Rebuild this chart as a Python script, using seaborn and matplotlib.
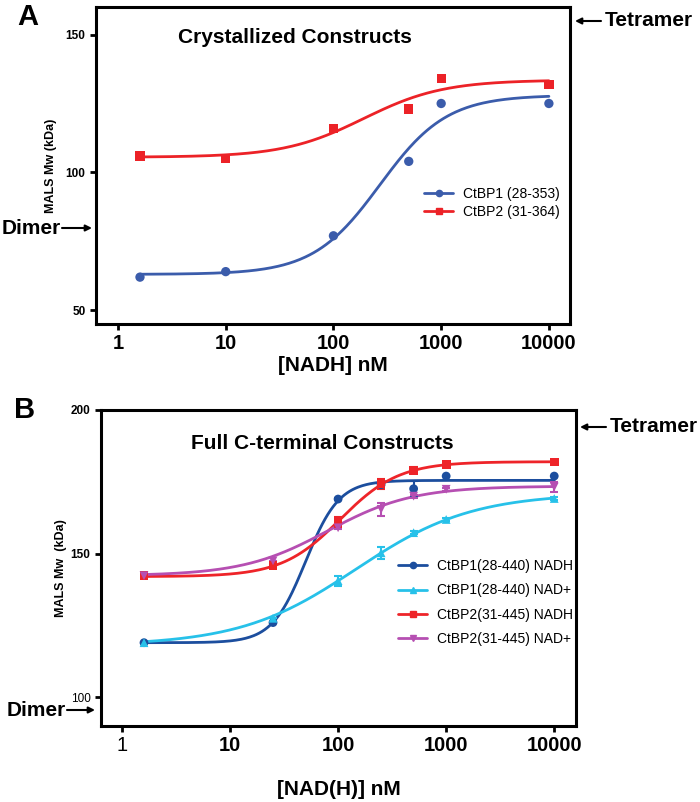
import numpy as np
import pandas as pd
import matplotlib
matplotlib.use("Agg")
import matplotlib.pyplot as plt
from matplotlib.lines import Line2D
from matplotlib.patches import FancyArrowPatch
import seaborn as sns

# ---------------- data ----------------
# Panel A: crystallized constructs, [NADH] nM vs MALS Mw (kDa)
a_conc = [1.6, 10, 100, 500, 1000, 10000]
a_ctbp1 = [62, 64, 77, 104, 125, 125]
a_ctbp2 = [106, 105, 116, 123, 134, 132]
a_labels = ["CtBP1 (28-353)", "CtBP2 (31-364)"]
# fitted 4PL parameters: bottom, top, EC50, hill
a_fit = {"CtBP1 (28-353)": (63, 128, 270, 1.4),
         "CtBP2 (31-364)": (105.5, 133.5, 190, 1.17)}

# Panel B: full C-terminal constructs
b_conc = [1.6, 25, 100, 250, 500, 1000, 10000]
b_c1_nadh = [119, 126, 169, 174, 172.6, 177, 177]
b_c1_nadh_err = [0, 0, 0.5, 1.0, 2.6, 0, 0]
b_c1_nad = [119, 127.5, 140.6, 150.3, 157.3, 161.9, 169.2]
b_c1_nad_err = [0, 0, 1.7, 2.0, 0.5, 0.5, 0.5]
b_c2_nadh = [142.3, 145.9, 160.9, 174.4, 179, 181.1, 181.9]
b_c2_nadh_err = [0, 0, 1.7, 1.75, 1.0, 0.5, 0.5]
b_c2_nad = [142.3, 147.5, 159, 165.4, 170, 172.4, 173.2]
b_c2_nad_err = [0, 0, 0.5, 2.2, 0.5, 0.5, 1.6]
b_labels = ["CtBP1(28-440) NADH", "CtBP1(28-440) NAD+",
            "CtBP2(31-445) NADH", "CtBP2(31-445) NAD+"]
b_fit = {"CtBP1(28-440) NADH": (119, 175.5, 50, 2.8),
         "CtBP1(28-440) NAD+": (118, 171, 145, 0.81),
         "CtBP2(31-445) NADH": (142, 182, 105, 1.6),
         "CtBP2(31-445) NAD+": (142.3, 173.5, 80, 1.1)}

xticks = [1, 10, 100, 1000, 10000]
xtick_labels = ["1", "10", "100", "1000", "10000"]

# ---------------- style ----------------
sns.set_style("ticks")
plt.rcParams["font.family"] = ["Liberation Sans", "DejaVu Sans"]
for k in ["text.color", "axes.labelcolor", "xtick.color", "ytick.color", "axes.edgecolor"]:
    plt.rcParams[k] = "black"

W, H = 700, 802
fig = plt.figure(figsize=(W / 100, H / 100), dpi=100)


def fx(px):
    return px / W


def fy(py):
    return 1 - py / H


def logistic(x, p):
    b, t, ec, h = p
    return b + (t - b) / (1 + (ec / x) ** h)


def style_axes(ax):
    for s in ax.spines.values():
        s.set_linewidth(2.2)
        s.set_color("black")
    ax.tick_params(axis="both", direction="out", width=2, length=4, color="black")
    ax.minorticks_off()


xfit = np.logspace(np.log10(1.6), 4, 300)

# ---------------- Panel A ----------------
axA = fig.add_axes([fx(96), fy(324), fx(570 - 96), (324 - 7) / H])
cols_a = {"CtBP1 (28-353)": "#3B5CAB", "CtBP2 (31-364)": "#EC2227"}
marks_a = {"CtBP1 (28-353)": "o", "CtBP2 (31-364)": "s"}
dfa = pd.DataFrame({"conc": a_conc * 2,
                    "mw": a_ctbp1 + a_ctbp2,
                    "construct": [a_labels[0]] * len(a_conc) + [a_labels[1]] * len(a_conc)})
for lab in a_labels:
    fitdf = pd.DataFrame({"conc": xfit, "mw": logistic(xfit, a_fit[lab])})
    sns.lineplot(data=fitdf, x="conc", y="mw", ax=axA, color=cols_a[lab], lw=2.0,
                 legend=False)
    sub = dfa[dfa.construct == lab]
    sns.scatterplot(data=sub, x="conc", y="mw", ax=axA, color=cols_a[lab],
                    marker=marks_a[lab], s=45, edgecolor="none", legend=False, zorder=3)
axA.set_xscale("log")
axA.set_xlim(0.625, 15700)
axA.set_ylim(45, 160)
axA.set_xticks(xticks)
axA.set_xticklabels(xtick_labels, fontsize=14.5, fontweight="bold")
axA.set_yticks([50, 100, 150])
axA.set_yticklabels(["50", "100", "150"], fontsize=8.5, fontweight="bold")
style_axes(axA)
axA.set_xlabel("[NADH] nM", fontsize=15, fontweight="bold", labelpad=2)
axA.set_ylabel("MALS Mw (kDa)", fontsize=9, fontweight="bold", labelpad=6)
axA.text(0.42, 0.905, "Crystallized Constructs", transform=axA.transAxes,
         ha="center", va="center", fontsize=15, fontweight="bold")
hA = [Line2D([0], [0], color=cols_a[l], marker=marks_a[l], lw=2, ms=4.5) for l in a_labels]
axA.legend(hA, a_labels, loc="upper left", bbox_to_anchor=((424 - 96) / 474, (324 - 187) / 317),
           frameon=False, fontsize=10, handlelength=2.1, handletextpad=0.7,
           labelspacing=0.3, borderpad=0, borderaxespad=0)

# ---------------- Panel B ----------------
axB = fig.add_axes([fx(101), fy(726), fx(576 - 101), (726 - 410) / H])
cols_b = {b_labels[0]: "#1C4E9E", b_labels[1]: "#27C1E9",
          b_labels[2]: "#EE2429", b_labels[3]: "#B64FB2"}
marks_b = {b_labels[0]: "o", b_labels[1]: "^", b_labels[2]: "s", b_labels[3]: "v"}
b_vals = [b_c1_nadh, b_c1_nad, b_c2_nadh, b_c2_nad]
b_errs = [b_c1_nadh_err, b_c1_nad_err, b_c2_nadh_err, b_c2_nad_err]
for lab, vals, errs in zip(b_labels, b_vals, b_errs):
    fitdf = pd.DataFrame({"conc": xfit, "mw": logistic(xfit, b_fit[lab])})
    sns.lineplot(data=fitdf, x="conc", y="mw", ax=axB, color=cols_b[lab], lw=2.0,
                 legend=False)
    sub = pd.DataFrame({"conc": b_conc, "mw": vals, "err": errs})
    axB.errorbar(sub.conc, sub.mw, yerr=sub.err, fmt="none", ecolor=cols_b[lab],
                 elinewidth=1.5, capsize=3, capthick=1.5, zorder=3)
    sns.scatterplot(data=sub, x="conc", y="mw", ax=axB, color=cols_b[lab],
                    marker=marks_b[lab], s=40, edgecolor="none", legend=False, zorder=4)
axB.set_xscale("log")
axB.set_xlim(0.64, 15900)
axB.set_ylim(90, 200)
axB.set_xticks(xticks)
axB.set_xticklabels(xtick_labels, fontsize=14.5, fontweight="bold")
axB.get_xticklabels()[0].set_fontweight("normal")
axB.set_yticks([100, 150, 200])
axB.set_yticklabels(["100", "150", "200"], fontsize=8.5, fontweight="bold")
axB.get_yticklabels()[0].set_fontweight("normal")
style_axes(axB)
axB.set_xlabel("[NAD(H)] nM", fontsize=15, fontweight="bold", labelpad=18)
axB.set_ylabel("MALS Mw  (kDa)", fontsize=9, fontweight="bold", labelpad=3)
axB.text(0.465, 0.895, "Full C-terminal Constructs", transform=axB.transAxes,
         ha="center", va="center", fontsize=15, fontweight="bold")
hB = [Line2D([0], [0], color=cols_b[l], marker=marks_b[l], lw=2, ms=4.5) for l in b_labels]
axB.legend(hB, b_labels, loc="upper left", bbox_to_anchor=((398 - 101) / 475, (726 - 559) / 316),
           frameon=False, fontsize=10, handlelength=2.1, handletextpad=0.7,
           labelspacing=0.75, borderpad=0, borderaxespad=0)

# ---------------- annotations ----------------
arrow = dict(arrowstyle="-|>", lw=1.5, color="black", mutation_scale=9, shrinkA=0, shrinkB=0)
fig.text(fx(28), fy(17), "A", fontsize=21, fontweight="bold", ha="center", va="center")
fig.text(fx(25), fy(410), "B", fontsize=21, fontweight="bold", ha="center", va="center")
# Tetramer labels
fig.text(fx(605), fy(21), "Tetramer", fontsize=15, fontweight="bold", ha="left", va="center")
fig.add_artist(FancyArrowPatch((fx(601), fy(21)), (fx(575), fy(21)),
                               transform=fig.transFigure, **arrow))
fig.text(fx(610), fy(427), "Tetramer", fontsize=15, fontweight="bold", ha="left", va="center")
fig.add_artist(FancyArrowPatch((fx(606), fy(427)), (fx(580), fy(427)),
                               transform=fig.transFigure, **arrow))
# Dimer labels
fig.text(fx(61), fy(228), "Dimer", fontsize=15, fontweight="bold", ha="right", va="center")
fig.add_artist(FancyArrowPatch((fx(62), fy(228)), (fx(92), fy(228)),
                               transform=fig.transFigure, **arrow))
fig.text(fx(66), fy(710), "Dimer", fontsize=15, fontweight="bold", ha="right", va="center")
fig.add_artist(FancyArrowPatch((fx(67), fy(710)), (fx(95), fy(710)),
                               transform=fig.transFigure, **arrow))

fig.savefig("out.png", dpi=100)
